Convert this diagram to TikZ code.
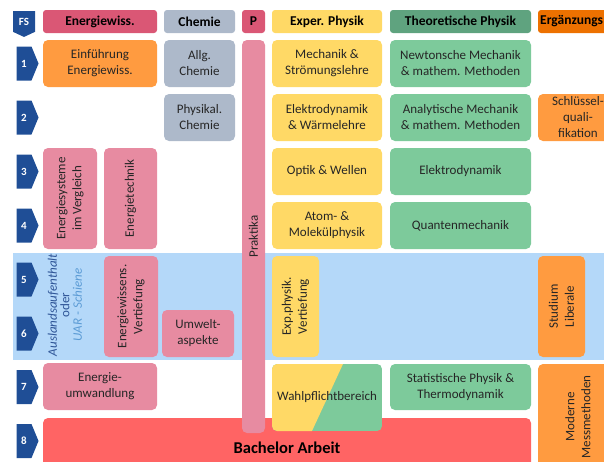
\documentclass[tikz,border=0pt]{standalone}
\usepackage{fontspec}
\setmainfont{Carlito}
\usetikzlibrary{shapes.symbols}
\definecolor{semblue}{HTML}{1F4E96}
\definecolor{energhead}{HTML}{DA5775}
\definecolor{energpink}{HTML}{E78BA1}
\definecolor{chemgray}{HTML}{ADB9CA}
\definecolor{expyellow}{HTML}{FFD966}
\definecolor{theohead}{HTML}{5FA37F}
\definecolor{theogreen}{HTML}{7DCA9B}
\definecolor{erghead}{HTML}{ED7100}
\definecolor{ergorange}{HTML}{FF9B40}
\definecolor{bandblue}{HTML}{B4D8F9}
\definecolor{bachred}{HTML}{FF6464}
\definecolor{textgray}{HTML}{262626}
\definecolor{auslblue}{HTML}{2F5597}
\definecolor{uarblue}{HTML}{5B9BD5}
\begin{document}
\begin{tikzpicture}[x=1pt,y=-1pt,
  box/.style={rounded corners=5pt, inner sep=0pt, align=center, text=textgray, font=\fontsize{13}{16}\selectfont},
  head/.style={rounded corners=3pt, inner sep=0pt, minimum height=23pt, text=black, font=\bfseries\fontsize{13.5}{16}\selectfont},
  sem/.style={signal, signal to=east, signal pointer angle=135, fill=semblue, text=white, inner sep=0pt, minimum width=22pt, minimum height=34pt, font=\bfseries\fontsize{11}{13}\selectfont}]
\clip (0,0) rectangle (604,461);
% semester markers
\node[signal, signal to=south, signal pointer angle=130, fill=semblue, text=white, inner sep=0pt, minimum width=22pt, minimum height=23pt, font=\bfseries\fontsize{11}{13}\selectfont] (fs) at (24,21.5){FS};
\fill[bandblue] (13,253) rectangle (604,360);
\node[sem] (sem1) at (24,63.5){1};
\node[sem] (sem2) at (24,117.5){2};
\node[sem] (sem3) at (24,171.5){3};
\node[sem] (sem4) at (24,225.5){4};
\node[sem] (sem5) at (24,279.5){5};
\node[sem] (sem6) at (24,333.5){6};
\node[sem] (sem7) at (24,387){7};
\node[sem] (sem8) at (24,441){8};
% column heads
\node[head, fill=energhead, minimum width=114pt] (hEnerg) at (100,21.5){Energiewiss.};
\node[head, fill=chemgray, minimum width=71pt] (hChem) at (199.5,21.5){Chemie};
\node[head, fill=energhead, minimum width=23pt] (hP) at (253.5,21.5){P};
\node[head, fill=expyellow, minimum width=110pt] (hExp) at (327,21.5){Exper. Physik};
\node[head, fill=theohead, minimum width=141pt] (hTheo) at (460.5,21.5){Theoretische Physik};
\node[head, fill=erghead, minimum width=80pt] (hErg) at (578,21.5){};
\node[anchor=west, inner sep=0pt, font=\bfseries\fontsize{13.5}{16}\selectfont] (hErgText) at (540,21.5){Ergänzungs};
% energiewissenschaften
\node[box, fill=ergorange, minimum width=114pt, minimum height=47pt] (einf) at (100,63.5){Einführung\\Energiewiss.};
\node[box, fill=energpink, rotate=90, minimum width=101pt, minimum height=54pt] (ensys) at (70,198.5){Energiesysteme\\im Vergleich};
\node[box, fill=energpink, rotate=90, minimum width=101pt, minimum height=53pt] (entech) at (130.5,198.5){Energietechnik};
\node[box, fill=energpink, rotate=90, minimum width=101pt, minimum height=54pt] (envert) at (131,306.5){Energiewissens.\\Vertiefung};
\node[box, fill=energpink, minimum width=114pt, minimum height=47pt] (enumw) at (100,386.5){Energie-\\umwandlung};
\node[rotate=90, align=center, inner sep=0pt, font=\itshape\fontsize{13}{12.5}\selectfont] (ausl) at (65,305){\textcolor{auslblue}{Auslandsaufenthalt}\\\textcolor{auslblue}{\upshape oder}\\\textcolor{uarblue}{UAR - Schiene}};
% chemie
\node[box, fill=chemgray, minimum width=71pt, minimum height=47pt] (allgchem) at (199.5,63.5){Allg.\\Chemie};
\node[box, fill=chemgray, minimum width=71pt, minimum height=47pt] (physchem) at (199.5,117.5){Physikal.\\Chemie};
\node[box, fill=energpink, minimum width=72pt, minimum height=47pt] (umwelt) at (198,333.5){Umwelt-\\aspekte};
% bachelor
\node[box, fill=bachred, minimum width=488pt, minimum height=60pt, text=black, font=\bfseries\fontsize{16.5}{18}\selectfont] (bach) at (287,448){Bachelor Arbeit};
% praktika
\node[box, fill=energpink, rotate=90, minimum width=393pt, minimum height=23pt] (prakt) at (253.5,236.5){Praktika};
% experimentalphysik
\node[box, fill=expyellow, minimum width=110pt, minimum height=47pt] (mech) at (327,63.5){Mechanik \&\\Strömungslehre};
\node[box, fill=expyellow, minimum width=110pt, minimum height=47pt] (elwaerme) at (327,117.5){Elektrodynamik\\\& Wärmelehre};
\node[box, fill=expyellow, minimum width=110pt, minimum height=47pt] (optik) at (327,171.5){Optik \& Wellen};
\node[box, fill=expyellow, minimum width=110pt, minimum height=47pt] (atom) at (327,225.5){Atom- \&\\Molekülphysik};
\node[box, fill=expyellow, rotate=90, minimum width=101pt, minimum height=47pt] (expvert) at (295.5,306.5){Exp.physik.\\Vertiefung};
\begin{scope}
\clip[rounded corners=5pt] (272,364) rectangle (382,431);
\fill[theogreen] (272,364) rectangle (382,431);
\fill[expyellow] (272,364) -- (343,364) -- (312,431) -- (272,431) -- cycle;
\end{scope}
\node[box, minimum width=110pt, minimum height=67pt] (wahl) at (327,397.5){Wahlpflichtbereich};
% theoretische physik
\node[box, fill=theogreen, minimum width=141pt, minimum height=47pt] (newton) at (460.5,63.5){Newtonsche Mechanik\\\& mathem. Methoden};
\node[box, fill=theogreen, minimum width=141pt, minimum height=47pt] (analyt) at (460.5,117.5){Analytische Mechanik\\\& mathem. Methoden};
\node[box, fill=theogreen, minimum width=141pt, minimum height=47pt] (eldyn) at (460.5,171.5){Elektrodynamik};
\node[box, fill=theogreen, minimum width=141pt, minimum height=47pt] (quant) at (460.5,225.5){Quantenmechanik};
\node[box, fill=theogreen, minimum width=141pt, minimum height=46pt] (stat) at (460.5,387){Statistische Physik \&\\Thermodynamik};
% ergaenzung
\node[box, fill=ergorange, minimum width=80pt, minimum height=47pt] (schluessel) at (578,117.5){Schlüssel-\\quali-\\fikation};
\node[box, fill=ergorange, rotate=90, minimum width=101pt, minimum height=47pt] (studium) at (561.5,306.5){Studium\\Liberale};
\node[box, fill=ergorange, rotate=90, minimum width=106pt, minimum height=80pt] (messm) at (578,417){Moderne\\Messmethoden};
\end{tikzpicture}
\end{document}
